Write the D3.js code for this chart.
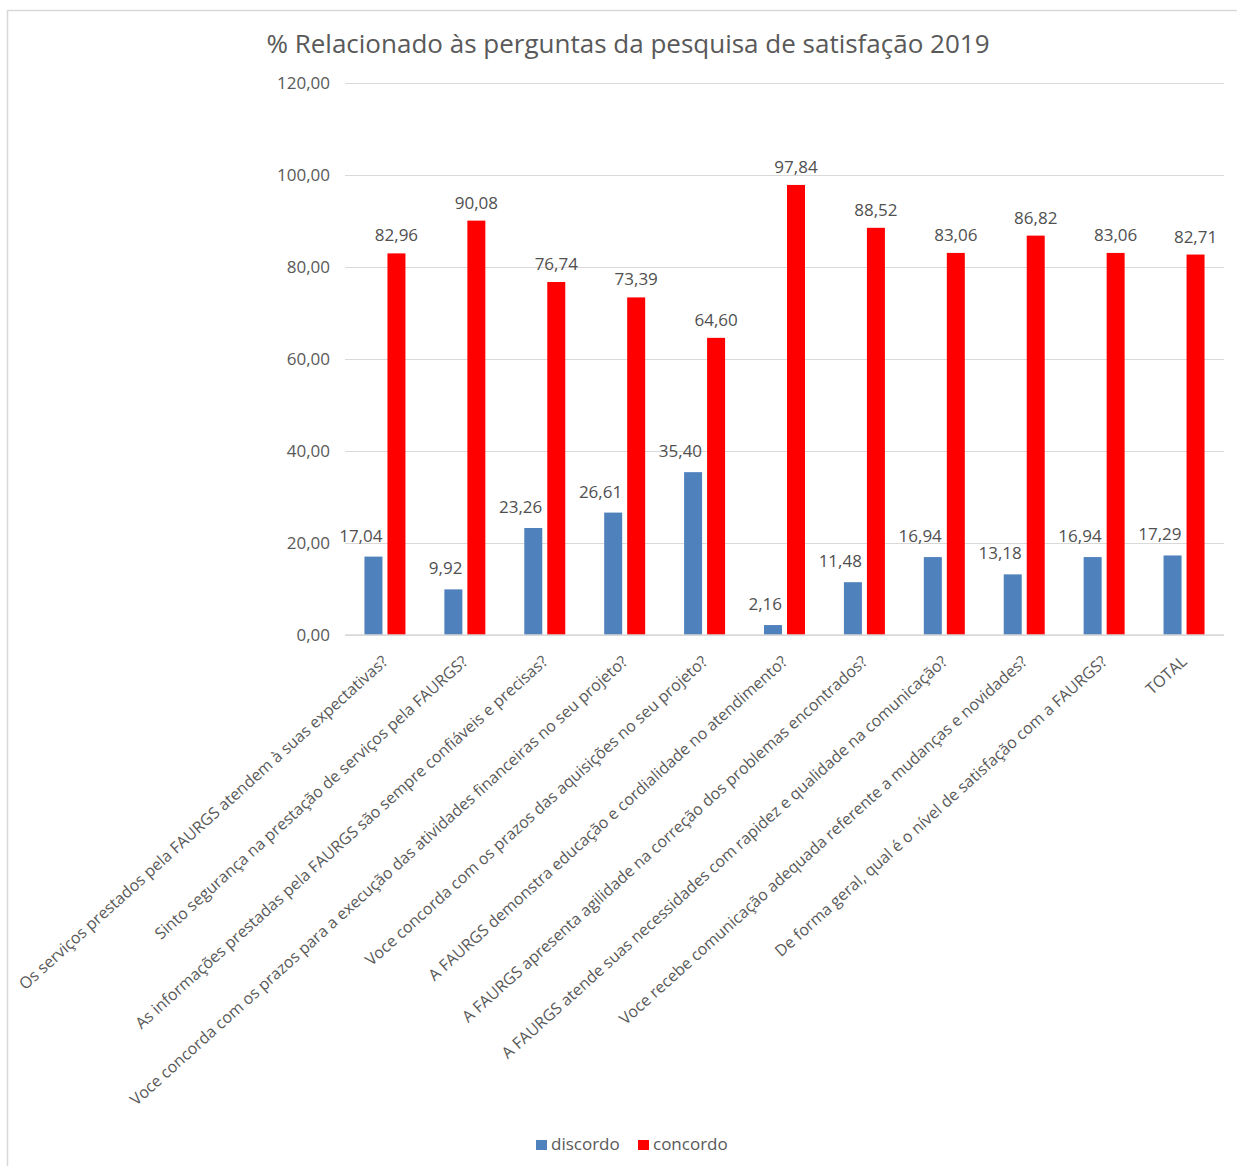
<!DOCTYPE html>
<html>
<head>
<meta charset="utf-8">
<script src="https://cdn.jsdelivr.net/npm/d3@7"></script>
<style>
  body { margin: 0; background: #fff; }
  text { font-family: "Open Sans", sans-serif; }
</style>
</head>
<body>
<script>
const categories = [
  "Os serviços prestados pela FAURGS atendem à suas expectativas?",
  "Sinto segurança na prestação de serviços pela FAURGS?",
  "As informações prestadas pela FAURGS são sempre confiáveis e precisas?",
  "Voce concorda com os prazos para a execução das atividades financeiras no seu projeto?",
  "Voce concorda com os prazos das aquisições no seu projeto?",
  "A FAURGS demonstra educação e cordialidade no atendimento?",
  "A FAURGS apresenta agilidade na correção dos problemas encontrados?",
  "A FAURGS atende suas necessidades com rapidez e qualidade na comunicação?",
  "Voce recebe comunicação adequada referente a mudanças e novidades?",
  "De forma geral, qual é o nível de satisfação com a FAURGS?",
  "TOTAL"
];
const discordo = [17.04, 9.92, 23.26, 26.61, 35.40, 2.16, 11.48, 16.94, 13.18, 16.94, 17.29];
const concordo = [82.96, 90.08, 76.74, 73.39, 64.60, 97.84, 88.52, 83.06, 86.82, 83.06, 82.71];
const seriesNames = ["discordo", "concordo"];
const yTicks = [0, 20, 40, 60, 80, 100, 120];

const W = 1237, H = 1166;
const colors = { discordo: "#4F81BD", concordo: "#FF0000" };
const fmt = v => d3.format(".2f")(v).replace(".", ",");

const svg = d3.select("body").append("svg")
  .attr("width", W).attr("height", H)
  .attr("xmlns", "http://www.w3.org/2000/svg");

// chart border
svg.append("rect")
  .attr("x", 7.5).attr("y", 10.5)
  .attr("width", W).attr("height", H)
  .attr("fill", "none").attr("stroke", "#d9d9d9").attr("stroke-width", 1.5);

const x = d3.scaleBand().domain(categories).range([345, 1224]);
const y = d3.scaleLinear().domain([0, 120]).range([635, 83]);

// title
svg.append("text")
  .attr("x", 628).attr("y", 53)
  .attr("text-anchor", "middle")
  .attr("font-size", 26)
  .attr("fill", "#595959")
  .text("% Relacionado às perguntas da pesquisa de satisfação 2019");

// gridlines
const yAxis = d3.axisLeft(y).tickValues(yTicks).tickSize(-(1224 - 345)).tickFormat(fmt);
const gy = svg.append("g").attr("transform", "translate(345,0)").call(yAxis);
gy.select(".domain").remove();
gy.selectAll(".tick line").attr("stroke", "#d9d9d9").attr("stroke-width", 1.2);
gy.selectAll(".tick text")
  .attr("x", -15)
  .attr("font-size", 17)
  .attr("fill", "#595959");

// bars
const bw = 18, gap = 5;
const groups = svg.append("g").selectAll("g")
  .data(categories.map((c, i) => ({ c, vals: [discordo[i], concordo[i]] })))
  .join("g")
  .attr("transform", d => `translate(${x(d.c) + x.bandwidth() / 2},0)`);

groups.selectAll("rect")
  .data(d => d.vals.map((v, j) => ({ v, j })))
  .join("rect")
  .attr("x", d => d.j === 0 ? -(bw + gap / 2) : gap / 2)
  .attr("width", bw)
  .attr("y", d => y(d.v))
  .attr("height", d => y(0) - y(d.v))
  .attr("fill", d => colors[seriesNames[d.j]]);

// value labels: blue ones end at the bar's right edge, red ones are centred
groups.selectAll("text.val")
  .data(d => d.vals.map((v, j) => ({ v, j })))
  .join("text")
  .attr("class", "val")
  .attr("x", d => d.j === 0 ? -gap / 2 : gap / 2 + bw / 2)
  .attr("y", d => y(d.v) - (d.j === 0 ? 15 : 12))
  .attr("text-anchor", d => d.j === 0 ? "end" : "middle")
  .attr("font-size", 17)
  .attr("fill", "#505050")
  .text(d => fmt(d.v));

// baseline
svg.append("line")
  .attr("x1", 345).attr("x2", 1224)
  .attr("y1", y(0)).attr("y2", y(0))
  .attr("stroke", "#d9d9d9").attr("stroke-width", 1.5);

// category labels
svg.append("g").selectAll("text")
  .data(categories)
  .join("text")
  .attr("transform", d => `translate(${x(d) + x.bandwidth() / 2 + 4},${y(0) + 28}) rotate(-42)`)
  .attr("text-anchor", "end")
  .attr("font-size", 16)
  .attr("fill", "#595959")
  .text(d => d);

// legend
const legend = svg.append("g").attr("transform", "translate(536,1150)");
const li = legend.selectAll("g").data(seriesNames).join("g")
  .attr("transform", (d, i) => `translate(${i * 102},0)`);
li.append("rect").attr("x", 0).attr("y", -10).attr("width", 11).attr("height", 10)
  .attr("fill", d => colors[d]);
li.append("text").attr("x", 15).attr("y", 0)
  .attr("font-size", 17).attr("fill", "#595959")
  .text(d => d);
</script>
</body>
</html>
